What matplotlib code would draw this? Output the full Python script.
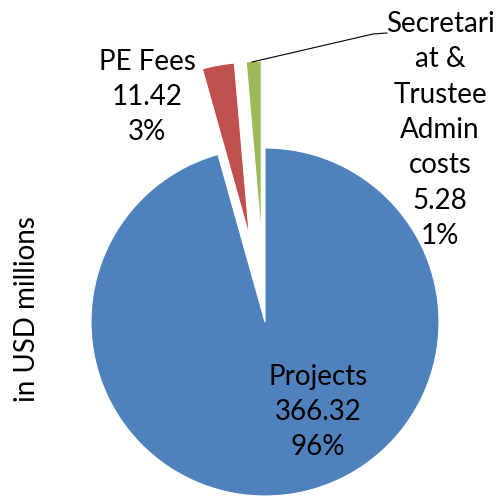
import matplotlib
matplotlib.use('Agg')
import matplotlib.pyplot as plt

labels = ['Projects', 'PE Fees', 'Secretariat & Trustee Admin costs']
values = [366.32, 11.42, 5.28]
pcts = ['96%', '3%', '1%']
colors = ['#4F81BD', '#C0504D', '#9BBB59']
explode = [0, 0.5, 0.5]

plt.rcParams['font.family'] = ['Lato', 'DejaVu Sans']

W, H = 501, 498
cx, cy, r = 265, 322, 174   # pie centre and radius in pixels

fig = plt.figure(figsize=(W / 100, H / 100), dpi=100)
ax = fig.add_axes([0, 0, 1, 1])
wedges, _ = ax.pie(values, colors=colors, explode=explode, startangle=90,
                   counterclock=False, radius=1,
                   wedgeprops=dict(edgecolor='white', linewidth=0.8))
for w in wedges:
    w.set_clip_on(False)
ax.set_aspect('auto')
ax.set_xlim(-cx / r, (W - cx) / r)
ax.set_ylim(-(H - cy) / r, cy / r)
ax.axis('off')

def px(x, y):
    return (x - cx) / r, (cy - y) / r

fs = 20
ls = 1.45
x, y = px(318, 412)
ax.text(x, y, '%s\n%.2f\n%s' % (labels[0], values[0], pcts[0]), ha='center', va='center',
        fontsize=fs, linespacing=ls, color='black')
x, y = px(147, 97)
ax.text(x, y, '%s\n%.2f\n%s' % (labels[1], values[1], pcts[1]), ha='center', va='center',
        fontsize=fs, linespacing=ls, color='black')
x, y = px(440, 130)
ax.text(x, y, 'Secretari\nat &\nTrustee\nAdmin\ncosts\n%.2f\n%s' % (values[2], pcts[2]),
        ha='center', va='center', fontsize=fs, linespacing=ls, color='black')

# leader line for the small slice
lx, ly = zip(px(387, 33), px(373, 34), px(252, 62))
ax.plot(lx, ly, color='black', linewidth=0.8, clip_on=False)

x, y = px(27, 309)
ax.text(x, y, 'in USD millions', rotation=90, ha='center', va='center', fontsize=fs)

fig.savefig('out.png', dpi=100)
